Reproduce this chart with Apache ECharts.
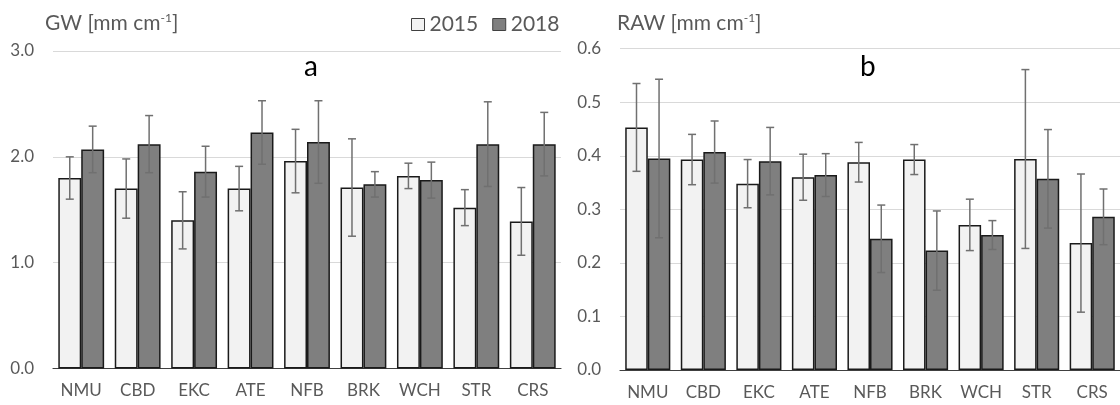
<!DOCTYPE html>
<html>
<head>
<meta charset="utf-8">
<script src="https://cdn.jsdelivr.net/npm/echarts@6/dist/echarts.min.js"></script>
<style>
html,body{margin:0;padding:0;background:#fff;}
#chart{width:1120px;height:405px;}
</style>
</head>
<body>
<div id="chart"></div>
<script>
// ---- data ----
var categories = ['NMU','CBD','EKC','ATE','NFB','BRK','WCH','STR','CRS'];
var seriesNames = ['2015','2018'];

var gw2015    = [1.80, 1.70, 1.40, 1.70, 1.96, 1.71, 1.82, 1.52, 1.39];
var gw2015Err = [0.20, 0.28, 0.27, 0.21, 0.30, 0.46, 0.12, 0.17, 0.32];
var gw2018    = [2.07, 2.12, 1.86, 2.23, 2.14, 1.74, 1.78, 2.12, 2.12];
var gw2018Err = [0.22, 0.27, 0.24, 0.30, 0.39, 0.12, 0.17, 0.40, 0.30];

var raw2015    = [0.453, 0.393, 0.348, 0.360, 0.388, 0.393, 0.271, 0.394, 0.237];
var raw2015Err = [0.082, 0.047, 0.045, 0.043, 0.037, 0.028, 0.048, 0.167, 0.129];
var raw2018    = [0.395, 0.407, 0.390, 0.364, 0.245, 0.223, 0.252, 0.357, 0.286];
var raw2018Err = [0.148, 0.058, 0.063, 0.040, 0.063, 0.074, 0.027, 0.092, 0.052];

var gwTicks  = {min: 0, max: 3.0, interval: 1.0};
var rawTicks = {min: 0, max: 0.6, interval: 0.1};

// ---- styles ----
var FONT = 'Lato';
var TXT = '#595959';
var BAR_FRAC = 0.406;
var barStyles = [
  {color: '#f2f2f2', borderColor: '#1a1a1a', borderWidth: 1.5},
  {color: '#7f7f7f', borderColor: '#1a1a1a', borderWidth: 1.5}
];

function errData(vals, errs) {
  return vals.map(function (v, i) { return [i, v, errs[i]]; });
}
function errRender(sign) {
  return function (params, api) {
    var i = api.value(0), v = api.value(1), e = api.value(2);
    var c = api.coord([i, v]);
    var band = api.size([1, 0])[0];
    var x = c[0] + sign * band * BAR_FRAC / 2;
    var yt = api.coord([i, v + e])[1];
    var yb = api.coord([i, v - e])[1];
    var cap = 4;
    var st = {stroke: '#707070', lineWidth: 1.5};
    return {type: 'group', children: [
      {type: 'line', shape: {x1: x, y1: yt, x2: x, y2: yb}, style: st},
      {type: 'line', shape: {x1: x - cap, y1: yt, x2: x + cap, y2: yt}, style: st},
      {type: 'line', shape: {x1: x - cap, y1: yb, x2: x + cap, y2: yb}, style: st}
    ]};
  };
}

function xAxisCfg(gi) {
  return {
    type: 'category', gridIndex: gi, data: categories,
    axisLine: {lineStyle: {color: '#404040', width: 1.2}},
    axisTick: {show: false},
    axisLabel: {color: TXT, fontFamily: FONT, fontSize: 17, margin: 14}
  };
}
function yAxisCfg(gi, t) {
  return {
    type: 'value', gridIndex: gi, min: t.min, max: t.max, interval: t.interval,
    axisLine: {show: false}, axisTick: {show: false},
    splitLine: {lineStyle: {color: '#d9d9d9', width: 1.2}},
    axisLabel: {color: TXT, fontFamily: FONT, fontSize: 17, margin: 19,
      formatter: function (v) { return v.toFixed(1); }}
  };
}

var supRich = {
  b: {fontSize: 21, color: TXT, fontFamily: FONT, fontWeight: 'normal'},
  s: {fontSize: 12, color: TXT, fontFamily: FONT, fontWeight: 'normal', padding: [0, 0, 10, 0]}
};

var chart = echarts.init(document.getElementById('chart'), null, {renderer: 'canvas'});
chart.setOption({
  animation: false,
  backgroundColor: '#fff',
  title: [
    {text: '{b|GW [mm cm}{s|-1}{b|]}', left: 40, top: 7, textStyle: {fontWeight: 'normal', rich: supRich}},
    {text: '{b|RAW [mm cm}{s|-1}{b|]}', left: 612, top: 7, textStyle: {fontWeight: 'normal', rich: supRich}},
    {text: 'a', left: 299, top: 48, textStyle: {fontFamily: FONT, fontSize: 28, fontWeight: 'normal', color: '#000'}},
    {text: 'b', left: 855, top: 48, textStyle: {fontFamily: FONT, fontSize: 28, fontWeight: 'normal', color: '#000'}}
  ],
  legend: {
    left: 406, top: 9, itemGap: 14, itemWidth: 13, itemHeight: 12,
    icon: 'rect',
    textStyle: {color: TXT, fontFamily: FONT, fontSize: 21},
    data: seriesNames.map(function (n, k) {
      return {name: n, itemStyle: {color: barStyles[k].color, borderColor: '#404040', borderWidth: 1}};
    })
  },
  grid: [
    {left: 53, width: 508, top: 51, bottom: 36.5},
    {left: 620, width: 509, top: 48.7, bottom: 35}
  ],
  xAxis: [xAxisCfg(0), xAxisCfg(1)],
  yAxis: [yAxisCfg(0, gwTicks), yAxisCfg(1, rawTicks)],
  series: [
    {name: seriesNames[0], type: 'bar', xAxisIndex: 0, yAxisIndex: 0, data: gw2015,
      barWidth: (BAR_FRAC * 100) + '%', barGap: '0%', itemStyle: barStyles[0]},
    {name: seriesNames[1], type: 'bar', xAxisIndex: 0, yAxisIndex: 0, data: gw2018,
      barWidth: (BAR_FRAC * 100) + '%', barGap: '0%', itemStyle: barStyles[1]},
    {name: seriesNames[0], type: 'bar', xAxisIndex: 1, yAxisIndex: 1, data: raw2015,
      barWidth: (BAR_FRAC * 100) + '%', barGap: '0%', itemStyle: barStyles[0]},
    {name: seriesNames[1], type: 'bar', xAxisIndex: 1, yAxisIndex: 1, data: raw2018,
      barWidth: (BAR_FRAC * 100) + '%', barGap: '0%', itemStyle: barStyles[1]},
    {type: 'custom', xAxisIndex: 0, yAxisIndex: 0, z: 10, renderItem: errRender(-1), data: errData(gw2015, gw2015Err)},
    {type: 'custom', xAxisIndex: 0, yAxisIndex: 0, z: 10, renderItem: errRender(1), data: errData(gw2018, gw2018Err)},
    {type: 'custom', xAxisIndex: 1, yAxisIndex: 1, z: 10, renderItem: errRender(-1), data: errData(raw2015, raw2015Err)},
    {type: 'custom', xAxisIndex: 1, yAxisIndex: 1, z: 10, renderItem: errRender(1), data: errData(raw2018, raw2018Err)}
  ]
});
</script>
</body>
</html>
